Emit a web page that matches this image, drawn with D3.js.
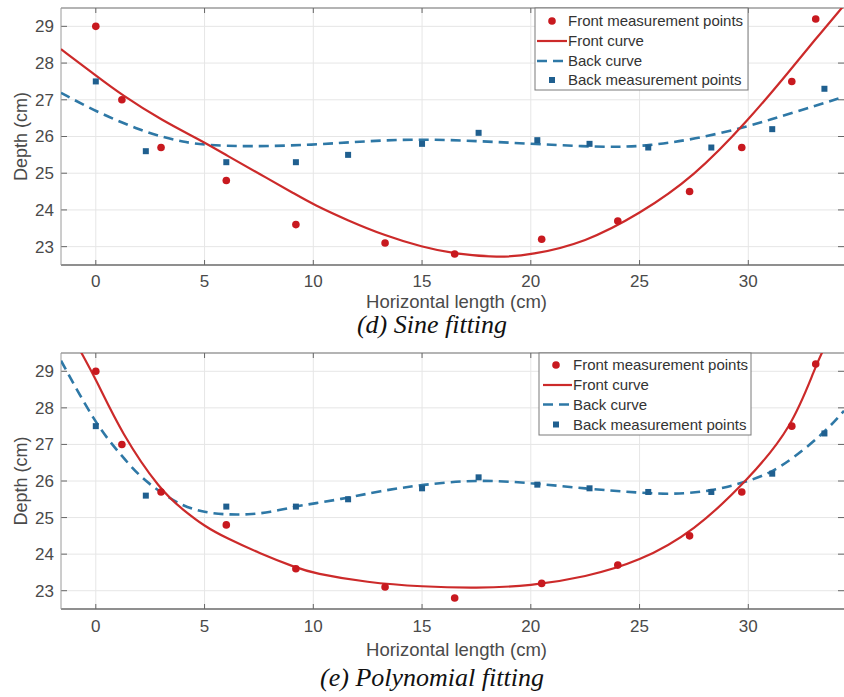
<!DOCTYPE html>
<html><head><meta charset="utf-8">
<script src="https://cdn.jsdelivr.net/npm/d3@7/dist/d3.min.js"></script>
<style>
html,body{margin:0;padding:0;background:#fff;}
svg{display:block;font-family:"Liberation Sans",Arial,sans-serif;}
</style></head>
<body><svg id="c" width="844" height="697"></svg>
<script>
// ---------- data ----------
const frontX = [0, 1.2, 3.0, 6.0, 9.2, 13.3, 16.5, 20.5, 24.0, 27.3, 29.7, 32.0, 33.1];
const frontY = [29.0, 27.0, 25.7, 24.8, 23.6, 23.1, 22.8, 23.2, 23.7, 24.5, 25.7, 27.5, 29.2];
const backX  = [0, 2.3, 6.0, 9.2, 11.6, 15.0, 17.6, 20.3, 22.7, 25.4, 28.3, 31.1, 33.5];
const backY  = [27.5, 25.6, 25.3, 25.3, 25.5, 25.8, 26.1, 25.9, 25.8, 25.7, 25.7, 26.2, 27.3];

// fitted curves (sine fitting)
const sineFrontX = [-1.6, 0, 1.2, 3, 5, 6, 7.5, 9.2, 10, 11.6, 13.3, 15, 16.5, 18.5, 20, 22.5, 25, 27.5, 30, 32, 33, 34.3, 34.6];
const sineFrontY = [28.38, 27.66, 27.13, 26.45, 25.84, 25.49, 24.99, 24.42, 24.15, 23.71, 23.30, 22.99, 22.80, 22.70, 22.77, 23.11, 23.89, 24.9, 26.44, 27.86, 28.59, 29.5, 29.72];
const sineBackX  = [-1.6, 0, 2, 3, 4, 5, 7, 10, 12.5, 15, 17.5, 20, 22.5, 24, 25.4, 27.5, 30, 32, 34.4];
const sineBackY  = [27.19, 26.68, 26.18, 26.0, 25.85, 25.77, 25.72, 25.77, 25.88, 25.93, 25.88, 25.8, 25.73, 25.71, 25.75, 25.92, 26.27, 26.64, 27.08];

// fitted curves (polynomial fitting)
const polyFrontX = [-1.0, -0.66, 0, 1.2, 3, 4, 5, 6, 7.5, 9.2, 10, 12.5, 15, 17.5, 20, 22.5, 25, 27.5, 30, 32, 33.1, 33.5];
const polyFrontY = [29.87, 29.5, 28.79, 27.28, 25.72, 25.22, 24.76, 24.44, 24.03, 23.63, 23.48, 23.22, 23.11, 23.07, 23.13, 23.37, 23.8, 24.62, 26.04, 27.45, 29.15, 29.65];
const polyBackX  = [-1.6, 0, 1, 2, 3, 4, 5, 6, 7, 8, 9.2, 10, 11.6, 13, 15, 17.5, 20, 22.5, 25, 26.5, 28.3, 30, 31, 32, 33.5, 34.4];
const polyBackY  = [29.29, 27.55, 26.82, 26.13, 25.68, 25.31, 25.14, 25.08, 25.08, 25.14, 25.31, 25.38, 25.54, 25.72, 25.9, 26.04, 25.95, 25.79, 25.68, 25.63, 25.72, 25.99, 26.22, 26.59, 27.32, 27.92];

const xTicks = [0, 5, 10, 15, 20, 25, 30];
const yTicks = [23, 24, 25, 26, 27, 28, 29];
const xDomain = [-1.6, 34.4];
const yDomain = [22.5, 29.5];
const legendLabels = ["Front measurement points", "Front curve", "Back curve", "Back measurement points"];
const captions = ["(d) Sine fitting", "(e) Polynomial fitting"];
const xLabel = "Horizontal length (cm)";
const yLabel = "Depth (cm)";

// ---------- styles ----------
const RED_PT = "#c8191f", RED_LN = "#cc2a2a", BLUE_PT = "#1f5f8f", BLUE_LN = "#2e78a6";
const TXT = "#4a4a4a";

const svg = d3.select("#c");

const panels = [
  {top: 8, bottom: 265, tickBase: 287, xlabBase: 308, capBase: 333, leg: {x: 535, y: 8, w: 213, h: 82, rows: [21, 41, 61, 80], mk: 552, l0: 537, l1: 567, tx: 568},
   fx: sineFrontX, fy: sineFrontY, bx: sineBackX, by: sineBackY, cap: captions[0]},
  {top: 353, bottom: 609, tickBase: 632, xlabBase: 656, capBase: 686, leg: {x: 539, y: 353, w: 212, h: 82, rows: [365, 385, 404.5, 424.5], mk: 556, l0: 543, l1: 572, tx: 573},
   fx: polyFrontX, fy: polyFrontY, bx: polyBackX, by: polyBackY, cap: captions[1]}
];

panels.forEach((p, i) => {
  const left = 61, right = 844;
  const x = d3.scaleLinear().domain(xDomain).range([left, right]);
  const y = d3.scaleLinear().domain(yDomain).range([p.bottom, p.top]);
  const g = svg.append("g");
  const cid = "clip" + i;
  svg.append("clipPath").attr("id", cid).append("rect")
    .attr("x", left).attr("y", p.top).attr("width", right - left).attr("height", p.bottom - p.top);

  // grid
  g.selectAll(".gx").data(xTicks).enter().append("line")
    .attr("x1", d => x(d)).attr("x2", d => x(d)).attr("y1", p.top).attr("y2", p.bottom)
    .attr("stroke", "#e6e6e6").attr("stroke-width", 1);
  g.selectAll(".gy").data(yTicks).enter().append("line")
    .attr("x1", left).attr("x2", right).attr("y1", d => y(d)).attr("y2", d => y(d))
    .attr("stroke", "#e6e6e6").attr("stroke-width", 1);

  // ticks (inward, both sides)
  g.selectAll(".tb").data(xTicks).enter().append("line")
    .attr("x1", d => x(d)).attr("x2", d => x(d)).attr("y1", p.bottom).attr("y2", p.bottom - 5)
    .attr("stroke", "#666");
  g.selectAll(".tt").data(xTicks).enter().append("line")
    .attr("x1", d => x(d)).attr("x2", d => x(d)).attr("y1", p.top).attr("y2", p.top + 5)
    .attr("stroke", "#666");
  g.selectAll(".tl").data(yTicks).enter().append("line")
    .attr("x1", left).attr("x2", left + 6).attr("y1", d => y(d)).attr("y2", d => y(d))
    .attr("stroke", "#666");
  g.selectAll(".tr").data(yTicks).enter().append("line")
    .attr("x1", right - 6).attr("x2", right).attr("y1", d => y(d)).attr("y2", d => y(d))
    .attr("stroke", "#666");

  // axes box
  g.append("line").attr("x1", left).attr("x2", right).attr("y1", p.bottom).attr("y2", p.bottom)
    .attr("stroke", "#6a6a6a").attr("stroke-width", 1.6);
  g.append("line").attr("x1", left).attr("x2", right).attr("y1", p.top).attr("y2", p.top)
    .attr("stroke", "#6a6a6a").attr("stroke-width", 1.2);
  g.append("line").attr("x1", left).attr("x2", left).attr("y1", p.top).attr("y2", p.bottom)
    .attr("stroke", "#9a9a9a").attr("stroke-width", 1);

  // tick labels
  g.selectAll(".xl").data(xTicks).enter().append("text")
    .attr("x", d => x(d)).attr("y", p.tickBase).attr("text-anchor", "middle")
    .attr("font-size", 17).attr("fill", TXT).text(d => d);
  g.selectAll(".yl").data(yTicks).enter().append("text")
    .attr("x", left - 7).attr("y", d => y(d)).attr("dy", "0.35em").attr("text-anchor", "end")
    .attr("font-size", 17).attr("fill", TXT).text(d => d);

  // axis labels
  g.append("text").attr("x", (left + right) / 2 + 4).attr("y", p.xlabBase).attr("text-anchor", "middle")
    .attr("font-size", 18.5).attr("fill", TXT).text(xLabel);
  g.append("text").attr("transform", `translate(27,${(p.top + p.bottom) / 2}) rotate(-90)`)
    .attr("text-anchor", "middle").attr("font-size", 18).attr("fill", TXT).text(yLabel);

  // caption
  g.append("text").attr("x", 432).attr("y", p.capBase).attr("text-anchor", "middle")
    .attr("font-family", "'Liberation Serif','Times New Roman',serif").attr("font-style", "italic")
    .attr("font-size", 26).attr("fill", "#111").text(p.cap);

  // curves
  const line = d3.line().x(d => x(d[0])).y(d => y(d[1])).curve(d3.curveBasis);
  const cg = g.append("g").attr("clip-path", `url(#${cid})`);
  cg.append("path").datum(p.bx.map((v, k) => [v, p.by[k]])).attr("d", line)
    .attr("fill", "none").attr("stroke", BLUE_LN).attr("stroke-width", 2.6).attr("stroke-dasharray", "10,6");
  cg.append("path").datum(p.fx.map((v, k) => [v, p.fy[k]])).attr("d", line)
    .attr("fill", "none").attr("stroke", RED_LN).attr("stroke-width", 2.2);

  // points
  cg.selectAll(".bp").data(backX.map((v, k) => [v, backY[k]])).enter().append("rect")
    .attr("x", d => x(d[0]) - 3).attr("y", d => y(d[1]) - 3).attr("width", 6).attr("height", 6)
    .attr("fill", BLUE_PT);
  cg.selectAll(".fp").data(frontX.map((v, k) => [v, frontY[k]])).enter().append("circle")
    .attr("cx", d => x(d[0])).attr("cy", d => y(d[1])).attr("r", 3.8).attr("fill", RED_PT);

  // legend
  const L = p.leg;
  const lg = g.append("g");
  lg.append("rect").attr("x", L.x).attr("y", L.y).attr("width", L.w).attr("height", L.h)
    .attr("fill", "#fff").attr("stroke", "#7a7a7a").attr("stroke-width", 1);
  lg.append("circle").attr("cx", L.mk).attr("cy", L.rows[0]).attr("r", 3.8).attr("fill", RED_PT);
  lg.append("line").attr("x1", L.l0).attr("x2", L.l1).attr("y1", L.rows[1]).attr("y2", L.rows[1])
    .attr("stroke", RED_LN).attr("stroke-width", 2.2);
  lg.append("line").attr("x1", L.l0).attr("x2", L.l1).attr("y1", L.rows[2]).attr("y2", L.rows[2])
    .attr("stroke", BLUE_LN).attr("stroke-width", 2.6).attr("stroke-dasharray", "10,6");
  lg.append("rect").attr("x", L.mk - 3).attr("y", L.rows[3] - 3).attr("width", 6).attr("height", 6).attr("fill", BLUE_PT);
  lg.selectAll(".lt").data(legendLabels).enter().append("text")
    .attr("x", L.tx).attr("y", (d, k) => L.rows[k]).attr("dy", "0.35em")
    .attr("font-size", 15).attr("fill", "#333").text(d => d);
});
</script></body></html>
